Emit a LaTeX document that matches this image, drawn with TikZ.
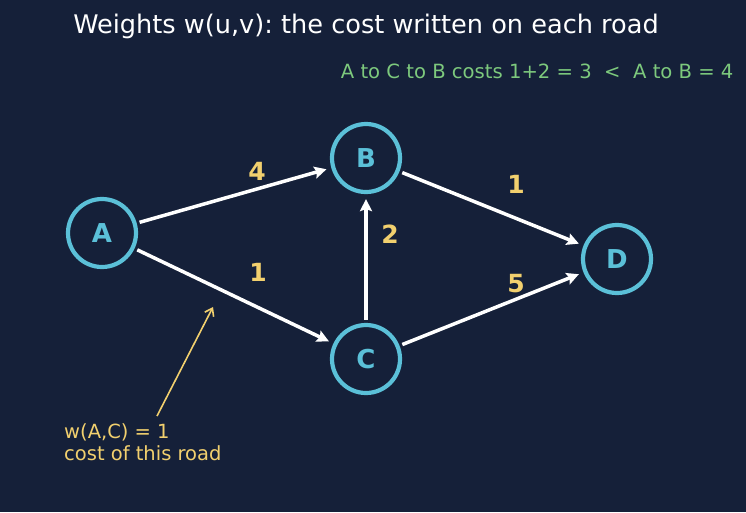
\documentclass[tikz,border=0pt]{standalone}
\usepackage{fontspec}
\setmainfont{DejaVu Sans}
\usetikzlibrary{arrows.meta}
\definecolor{bgnavy}{HTML}{152039}
\definecolor{citycyan}{HTML}{5BC0D8}
\definecolor{weightgold}{HTML}{F2D06E}
\definecolor{notegreen}{HTML}{7DC97D}
\frenchspacing
\tikzset{
    city/.style={circle, draw=citycyan, line width=4.2pt, minimum size=68pt, inner sep=0pt,
        text=citycyan, font=\fontsize{26}{28}\selectfont\bfseries},
    road/.style={white, line width=3.5pt, -{Stealth[length=12pt, width=12pt, inset=2pt]},
        shorten <=3pt, shorten >=5pt},
    weight/.style={text=weightgold, font=\fontsize{25}{27}\selectfont\bfseries}
}
\begin{document}
\begin{tikzpicture}[x=1pt, y=-1pt]
        % background and fixed frame
        \fill[bgnavy] (0,0) rectangle (746,512);
        \useasboundingbox (0,0) rectangle (746,512);

        % Title and comparison note
        \node[white, font=\fontsize{25.6}{28}\selectfont] (title) at (366,26) {Weights w(u,v): the cost written on each road};
        \node[anchor=east, notegreen, font=\fontsize{19.6}{22}\selectfont] (compare) at (737,71) {A to C to B costs 1+2 = 3\ \ <\ \ A to B = 4};

        % Cities
        \node[city] (A) at (102,233) {A};
        \node[city] (B) at (366,158) {B};
        \node[city] (C) at (366,359) {C};
        \node[city] (D) at (617,259) {D};

        % Roads
        \draw[road] (A) -- (B);
        \draw[road] (A) -- (C);
        \draw[road] (B) -- (D);
        \draw[road] (C) -- (B);
        \draw[road] (C) -- (D);

        % Weights on the roads
        \node[weight] (wAB) at (257,171) {4};
        \node[weight] (wAC) at (258,272) {1};
        \node[weight] (wBD) at (516,184) {1};
        \node[weight] (wCB) at (390,234) {2};
        \node[weight] (wCD) at (516,284) {5};

        % Annotation for the A-C road
        \node[anchor=north west, align=left, text=weightgold, inner sep=0pt,
            font=\fontsize{19.5}{22}\selectfont] (note) at (64,423) {w(A,C) = 1\\cost of this road};
        \coordinate (noteTail) at (157,416);
        \coordinate (noteTip) at (213,307);
        \draw[weightgold, line width=1.6pt, -{Straight Barb[length=7pt, width=10pt]}] (noteTail) -- (noteTip);
    \end{tikzpicture}
\end{document}
